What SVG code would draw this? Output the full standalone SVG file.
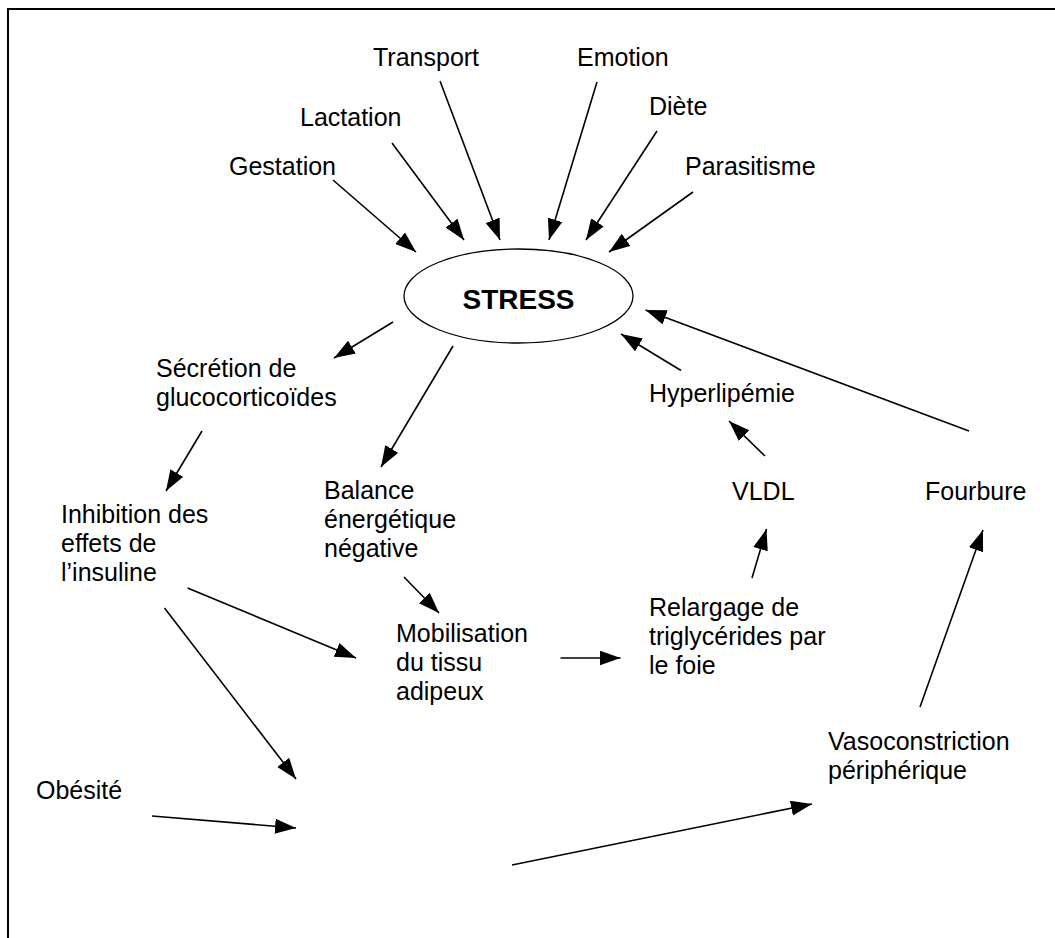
<svg xmlns="http://www.w3.org/2000/svg" width="1055" height="938" viewBox="0 0 1055 938">
<style>
.t{font-family:"Liberation Sans",Arial,sans-serif;font-size:25px;fill:#000}
.b{font-family:"Liberation Sans",Arial,sans-serif;font-size:28px;font-weight:bold;fill:#000}
.c line{stroke:#000;stroke-width:1.6;marker-end:url(#ah)}
</style>
<defs>
<marker id="ah" markerUnits="userSpaceOnUse" markerWidth="22" markerHeight="16" refX="21" refY="7.5" orient="auto">
<path d="M0,0 L21,7.5 L0,15 Z" fill="#000"/>
</marker>
</defs>
<rect x="0" y="0" width="1055" height="938" fill="#fff"/>
<rect x="8" y="9" width="1100" height="1000" fill="none" stroke="#000" stroke-width="2"/>
<g id="stress"><ellipse cx="518.5" cy="296" rx="114.5" ry="47" fill="none" stroke="#000" stroke-width="1.3"/><text class="b" x="518.5" y="309" text-anchor="middle">STRESS</text></g>
<g id="transport"><text class="t" x="373" y="66">Transport</text></g>
<g id="lactation"><text class="t" x="300" y="126">Lactation</text></g>
<g id="gestation"><text class="t" x="229" y="175">Gestation</text></g>
<g id="emotion"><text class="t" x="577" y="66">Emotion</text></g>
<g id="diete"><text class="t" x="649" y="115">Diète</text></g>
<g id="parasitisme"><text class="t" x="685" y="175">Parasitisme</text></g>
<g id="secretion"><text class="t" x="156" y="377">Sécrétion de</text><text class="t" x="156" y="406">glucocorticoïdes</text></g>
<g id="inhibition"><text class="t" x="61" y="523">Inhibition des</text><text class="t" x="61" y="552">effets de</text><text class="t" x="61" y="581">l’insuline</text></g>
<g id="balance"><text class="t" x="324" y="499">Balance</text><text class="t" x="324" y="528">énergétique</text><text class="t" x="324" y="557">négative</text></g>
<g id="mobilisation"><text class="t" x="396" y="642">Mobilisation</text><text class="t" x="396" y="671">du tissu</text><text class="t" x="396" y="700">adipeux</text></g>
<g id="relargage"><text class="t" x="649" y="616">Relargage de</text><text class="t" x="649" y="645">triglycérides par</text><text class="t" x="649" y="674">le foie</text></g>
<g id="hyperlipemie"><text class="t" x="649" y="402">Hyperlipémie</text></g>
<g id="vldl"><text class="t" x="732" y="500">VLDL</text></g>
<g id="fourbure"><text class="t" x="925" y="500">Fourbure</text></g>
<g id="vasoconstriction"><text class="t" x="828" y="750">Vasoconstriction</text><text class="t" x="828" y="779">périphérique</text></g>
<g id="obesite"><text class="t" x="36" y="799">Obésité</text></g>
<g id="connectors" class="c">
<line x1="333" y1="180" x2="416" y2="252"/>
<line x1="392" y1="143" x2="464" y2="240"/>
<line x1="440" y1="81" x2="500" y2="240"/>
<line x1="597" y1="82" x2="549" y2="240"/>
<line x1="657" y1="131" x2="586" y2="240"/>
<line x1="693" y1="192" x2="609" y2="252"/>
<line x1="393" y1="322" x2="334" y2="358"/>
<line x1="202" y1="431" x2="166" y2="491"/>
<line x1="453" y1="346" x2="381" y2="467"/>
<line x1="404" y1="577" x2="439" y2="613"/>
<line x1="187.5" y1="588" x2="356" y2="658"/>
<line x1="164.5" y1="608" x2="296" y2="779"/>
<line x1="152" y1="816" x2="296" y2="828"/>
<line x1="560.5" y1="658" x2="620.5" y2="658"/>
<line x1="512" y1="865" x2="812" y2="804"/>
<line x1="920" y1="707" x2="983" y2="530"/>
<line x1="752" y1="578" x2="766.5" y2="529"/>
<line x1="765" y1="456" x2="729" y2="421"/>
<line x1="681" y1="370.5" x2="621" y2="334"/>
<line x1="969" y1="431" x2="645.5" y2="310"/>
</g>
</svg>
